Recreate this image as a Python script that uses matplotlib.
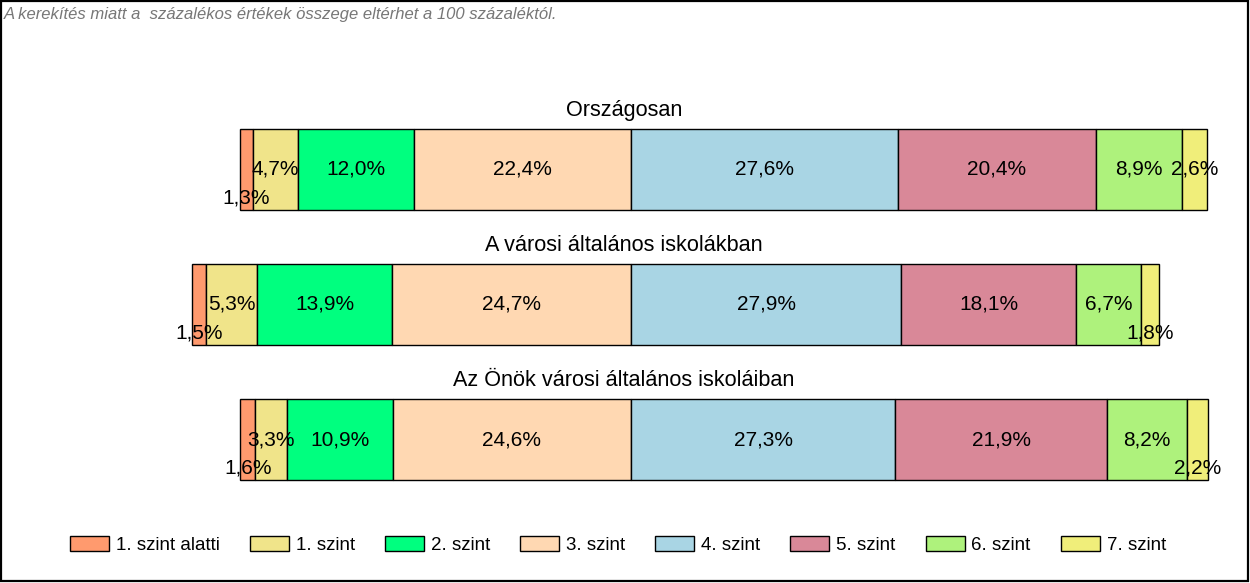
import matplotlib.pyplot as plt
from matplotlib.patches import Rectangle, Patch

plt.rcParams['font.family'] = ['Liberation Sans', 'DejaVu Sans']

groups = ['Országosan', 'A városi általános iskolákban', 'Az Önök városi általános iskoláiban']
levels = ['1. szint alatti', '1. szint', '2. szint', '3. szint',
          '4. szint', '5. szint', '6. szint', '7. szint']
values = [
    [1.3, 4.7, 12.0, 22.4, 27.6, 20.4, 8.9, 2.6],
    [1.5, 5.3, 13.9, 24.7, 27.9, 18.1, 6.7, 1.8],
    [1.6, 3.3, 10.9, 24.6, 27.3, 21.9, 8.2, 2.2],
]
colors = ['#FF9A6E', '#F0E48A', '#00FF7F', '#FFD8B2',
          '#A9D5E4', '#D98898', '#AEF27C', '#F0EE7A']
note = 'A kerekítés miatt a  százalékos értékek összege eltérhet a 100 százaléktól.'

W, H = 1250, 583
px = 9.68          # pixels per percent
center_px = 631    # boundary between 3. and 4. szint

fig = plt.figure(figsize=(W / 100, H / 100), dpi=100)
ax = fig.add_axes([0, 0, 1, 1])
ax.set_xlim(-center_px / px, (W - center_px) / px)
ax.set_ylim((H - 169.5) / 135, -169.5 / 135)
ax.axis('off')

for i, row in enumerate(values):
    left = -sum(row[:4])
    for j, v in enumerate(row):
        ax.barh(i, v, left=left, height=0.6, color=colors[j],
                edgecolor='black', linewidth=1)
        lab = f'{v:.1f}%'.replace('.', ',')
        dy = 0.21 if v < 2.5 else 0.0
        ax.text(left + v / 2, i + dy, lab, ha='center', va='center', fontsize=15)
        left += v
    ax.text((624 - center_px) / px, i - 0.44, groups[i], ha='center', va='center', fontsize=15.6)

fig.text(4 / W, 1 - 14 / H, note, ha='left', va='center', fontsize=12,
         style='italic', color='#777777')

handles = [Patch(facecolor=c, edgecolor='black', linewidth=1) for c in colors]
fig.legend(handles, levels, loc='center', bbox_to_anchor=(618 / W, 1 - 545 / H),
           ncol=8, frameon=False, fontsize=13.5, handlelength=2.08, handleheight=0.85,
           handletextpad=0.37, columnspacing=1.6)

fig.patches.append(Rectangle((0.0008, 0.0026), 0.9976, 0.9957, transform=fig.transFigure,
                             fill=False, edgecolor='black', linewidth=1.6))

fig.savefig('out.png', dpi=100)
